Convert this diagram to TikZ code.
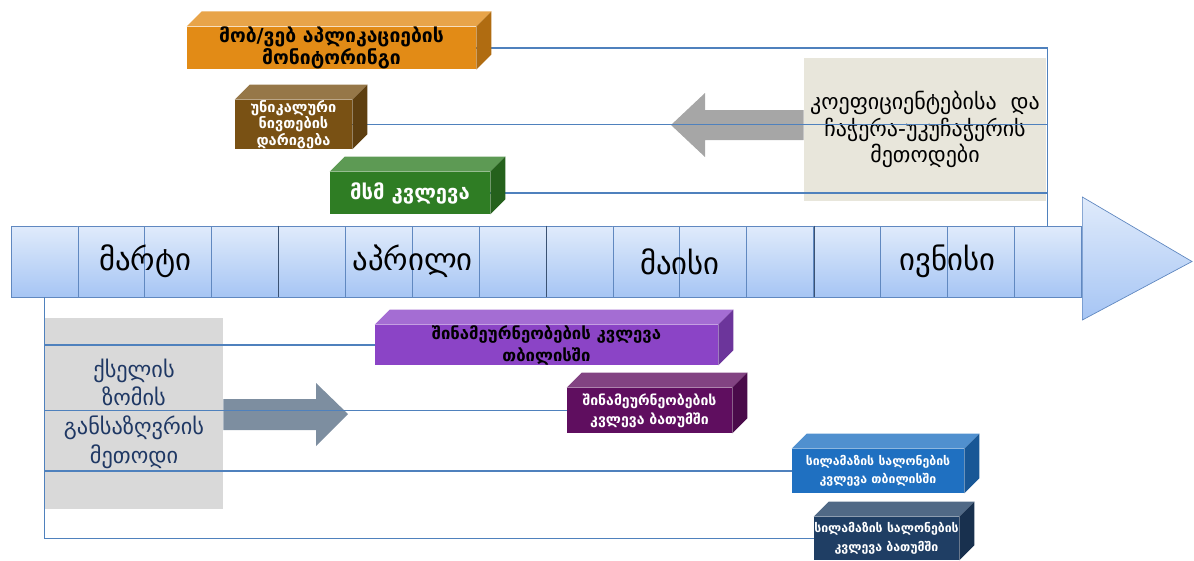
\documentclass[tikz,border=0pt]{standalone}
\usepackage{fontspec}
\setmainfont{DejaVu Sans}
\usetikzlibrary{calc, shadows}
\definecolor{cell_top}{RGB}{224, 235, 251}
\definecolor{cell_bot}{RGB}{166, 197, 244}
\definecolor{cell_line}{RGB}{96, 136, 192}
\definecolor{line_blue}{RGB}{79, 129, 189}
\definecolor{panel_beige}{RGB}{232, 230, 219}
\definecolor{panel_gray}{RGB}{217, 217, 217}
\definecolor{arrow_gray}{RGB}{166, 166, 166}
\definecolor{arrow_slate}{RGB}{125, 142, 160}
\definecolor{text_navy}{RGB}{31, 56, 100}
\definecolor{box_orange}{RGB}{226, 139, 22}
\definecolor{box_brown}{RGB}{121, 81, 20}
\definecolor{box_green}{RGB}{47, 125, 36}
\definecolor{box_purple}{RGB}{139, 68, 198}
\definecolor{box_plum}{RGB}{95, 14, 95}
\definecolor{box_blue}{RGB}{31, 112, 193}
\definecolor{box_navy}{RGB}{31, 62, 100}

\begin{document}
\begin{tikzpicture}[
    x=0.02cm, y=-0.02cm,
    cell/.style={
        rectangle,
        draw=cell_line,
        top color=cell_top,
        bottom color=cell_bot,
        minimum width=1.3375cm,
        minimum height=1.42cm,
        inner sep=0pt
    },
    month/.style={
        text=black,
        font=\fontsize{17.5}{20}\selectfont
    },
    slab/.style={
        rectangle,
        fill=#1,
        inner sep=0pt,
        align=center
    },
    panel/.style={
        rectangle,
        fill=#1,
        inner sep=0pt,
        align=center
    },
    link/.style={
        draw=line_blue,
        line width=0.6pt
    }
]
\useasboundingbox (0,0) rectangle (1194,561);

% timeline cells
\foreach \i in {1,...,16}
    \node[cell] (c\i) at ({11+66.875*(\i-0.5)},261.5) {};
\foreach \i in {4,8,12}
    \draw[cell_line!60!black] (c\i.north east) -- (c\i.south east);

% arrow head of the timeline
\shade[top color=cell_top, bottom color=cell_bot, draw=cell_line]
    ($(c16.east)+(1,-64.5)$) -- (1192,261.5) -- ($(c16.east)+(1,58.5)$) -- cycle;

% months
\node[month] (march) at (c2.east) {მარტი};
\node[month] (april) at (c6.east) {აპრილი};
\node[month] (may) at (c10.east) {მაისი};
\node[month] (june) at (c14.east) {ივნისი};

% method panels
\node[panel=panel_beige, minimum width=4.84cm, minimum height=2.86cm,
      font=\fontsize{12.5}{15}\selectfont] (capture) at (925,129.5)
      {კოეფიციენტებისა~~და\\ჩაჭერა-უკუჩაჭერის\\მეთოდები};
\node[panel=panel_gray, text=text_navy, minimum width=3.56cm, minimum height=3.82cm,
      font=\fontsize{12.7}{16.3}\selectfont] (scaleup) at (134,413.5)
      {ქსელის\\ზომის\\განსაზღვრის\\მეთოდი};

% big arrows
\fill[arrow_gray] (capture.west |- 0,110) -- (705,110) -- (705,93) -- (671,125)
    -- (705,157) -- (705,140) -- (capture.west |- 0,140) -- cycle;
\fill[arrow_slate] (scaleup.east |- 0,399) -- (316,399) -- (316,383) -- (348,414)
    -- (316,446) -- (316,430) -- (scaleup.east |- 0,430) -- cycle;

% studies above the timeline
\node[slab=box_orange, minimum width=5.78cm, minimum height=0.84cm,
      font=\bfseries\fontsize{11}{12.5}\selectfont] (mobweb) at (331.5,48)
      {მობ/ვებ აპლიკაციების\\მონიტორინგი};
\node[slab=box_brown, text=white, minimum width=2.34cm, minimum height=0.9cm,
      font=\bfseries\fontsize{8.3}{9.5}\selectfont] (unique) at (293.5,124.5)
      {უნიკალური\\ნივთების\\დარიგება};
\node[slab=box_green, text=white, minimum width=3.2cm, minimum height=0.84cm,
      font=\bfseries\fontsize{11.5}{13}\selectfont] (msm) at (410,193)
      {მსმ კვლევა};

% studies below the timeline
\node[slab=box_purple, minimum width=6.86cm, minimum height=0.8cm,
      font=\bfseries\fontsize{9.5}{12.5}\selectfont] (hhtbs) at (546.5,345)
      {შინამეურნეობების კვლევა\\თბილისში};
\node[slab=box_plum, text=white, minimum width=3.3cm, minimum height=0.9cm,
      font=\bfseries\fontsize{8}{11}\selectfont] (hhbat) at (649.5,410.5)
      {შინამეურნეობების\\კვლევა ბათუმში};
\node[slab=box_blue, text=white, minimum width=3.44cm, minimum height=0.88cm,
      font=\bfseries\fontsize{7}{10.5}\selectfont] (salontbs) at (878,471)
      {სილამაზის სალონების\\კვლევა თბილისში};
\node[slab=box_navy, text=white, minimum width=2.9cm, minimum height=0.86cm,
      font=\bfseries\fontsize{7}{10.5}\selectfont] (salonbat) at (886.5,538.5)
      {სილამაზის სალონების\\კვლევა ბათუმში};

% links to the timeline
\draw[link] (mobweb.east) -| (c16.north);
\draw[link] (unique.east) -- (unique.east -| c16.north);
\draw[link] (msm.east) -- (msm.east -| c16.north);
\draw[link] (c1.south) |- (salonbat.west);
\draw[link] (hhtbs.west) -- (hhtbs.west -| c1.south);
\draw[link] (hhbat.west) -- (hhbat.west -| c1.south);
\draw[link] (salontbs.west) -- (salontbs.west -| c1.south);

% top and side faces of the study boxes
\foreach \n/\c in {mobweb/box_orange, unique/box_brown, msm/box_green, hhtbs/box_purple,
                   hhbat/box_plum, salontbs/box_blue, salonbat/box_navy} {
    \fill[\c!78!white] (\n.north west) -- ++(15,-15) -- ([shift={(15,-15)}]\n.north east)
        -- (\n.north east) -- cycle;
    \fill[\c!78!black] (\n.north east) -- ++(15,-15) -- ([shift={(15,-15)}]\n.south east)
        -- (\n.south east) -- cycle;
}

\end{tikzpicture}
\end{document}
